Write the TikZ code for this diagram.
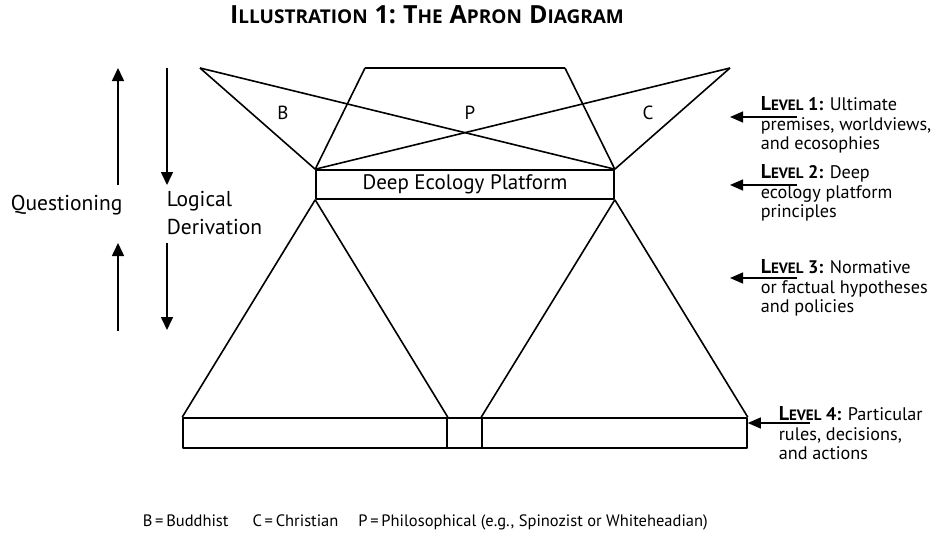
\documentclass[tikz,border=0pt]{standalone}
\usepackage{fontspec}
\setmainfont{PT Sans}
\newfontfamily\titlefont{Open Sans}
\usetikzlibrary{arrows.meta}
\newcommand{\levname}[1]{\textbf{{\fontsize{20}{20}\selectfont L}{\fontsize{15}{20}\selectfont EVEL} #1:}}
\newcommand{\tbig}[1]{{\fontsize{25}{28}\selectfont #1}}
\newcommand{\tsml}[1]{{\fontsize{19}{28}\selectfont #1}}
\newcommand{\tsp}{\hspace{7pt}}
\begin{document}
\begin{tikzpicture}[x=1pt,y=-1pt, line width=1.6pt, line join=round,
  box/.style={draw, inner sep=0pt},
  lbl/.style={font=\fontsize{18.2}{19.5}\selectfont, align=left, anchor=north west, inner sep=0pt},
  letter/.style={font=\fontsize{19}{22}\selectfont, inner sep=0pt},
  side/.style={font=\fontsize{21.5}{28}\selectfont, inner sep=0pt},
  bigarr/.style={-{Triangle[length=13pt,width=12pt]}, line width=1.6pt},
  levarr/.style={-{Triangle[length=13pt,width=11pt]}, line width=1.3pt}]
\useasboundingbox (0,0) rectangle (932,536);
% title
\node[inner sep=0pt, font=\titlefont\bfseries] (title) at (427,15)
 {\tbig{I}\tsml{LLUSTRATION}\tsp\tbig{1:}\tsp\tbig{T}\tsml{HE}\tsp\tbig{A}\tsml{PRON}\tsp\tbig{D}\tsml{IAGRAM}};
% top apexes
\coordinate (BA) at (200,68);
\coordinate (CA) at (730,68);
\coordinate (PL) at (365,68);
\coordinate (PR) at (565,68);
% platform
\node[box, minimum width=298pt, minimum height=29pt, font=\fontsize{21}{24}\selectfont] (plat) at (465,184.5) {Deep Ecology Platform};
\draw (BA) -- (plat.north west);
\draw (BA) -- (plat.north east);
\draw (CA) -- (plat.north east);
\draw (CA) -- (plat.north west);
\draw (PL) -- (PR);
\draw (PL) -- (plat.north west);
\draw (PR) -- (plat.north east);
\node[letter] (lb) at (283,113) {B};
\node[letter] (lp) at (470,113) {P};
\node[letter] (lc) at (648,113) {C};
% bottom rectangles
\node[box, minimum width=264pt, minimum height=30pt] (r1) at (315,433) {};
\node[box, minimum width=35pt, minimum height=30pt] (r2) at (464.5,433) {};
\node[box, minimum width=265pt, minimum height=30pt] (r3) at (614.5,433) {};
\draw (plat.south west) -- (r1.north west);
\draw (plat.south west) -- (r1.north east);
\draw (plat.south east) -- (r3.north west);
\draw (plat.south east) -- (r3.north east);
% left arrows
\node[side, anchor=west] (quest) at (10,205) {Questioning};
\node[side, anchor=north west, align=left] (logic) at (166,190) {Logical\\Derivation};
\coordinate (q1b) at (118,185);
\coordinate (q1t) at (118,68);
\coordinate (q2b) at (118,331);
\coordinate (q2t) at (118,243);
\coordinate (d1t) at (167,68);
\coordinate (d1b) at (167,185);
\coordinate (d2t) at (167,243);
\coordinate (d2b) at (167,330);
\draw[bigarr] (q1b) -- (q1t);
\draw[bigarr] (q2b) -- (q2t);
\draw[bigarr] (d1t) -- (d1b);
\draw[bigarr] (d2t) -- (d2b);
% level labels
\node[lbl] (lev1) at (760,96) {\levname{1} Ultimate\\premises, worldviews,\\and ecosophies};
\node[lbl] (lev2) at (760,164) {\levname{2} Deep\\ecology platform\\principles};
\node[lbl] (lev3) at (760,259) {\levname{3} Normative\\or factual hypotheses\\and policies};
\node[lbl] (lev4) at (778,406) {\levname{4} Particular\\rules, decisions,\\and actions};
\coordinate (t1) at (797,117);
\coordinate (h1) at (730,117);
\coordinate (t2) at (797,185);
\coordinate (h2) at (730,185);
\coordinate (t3) at (797,278);
\coordinate (h3) at (730,278);
\coordinate (t4) at (810,423);
\draw[levarr] (t1) -- (h1);
\draw[levarr] (t2) -- (h2);
\draw[levarr] (t3) -- (h3);
\draw[levarr] (t4) -- (r3.north east |- t4);
% footer
\node[inner sep=0pt, anchor=west, font=\fontsize{16.5}{19}\selectfont] (foot) at (142,522)
 {B\,=\,Buddhist\hspace{24pt}C\,=\,Christian\hspace{20pt}P\,=\,Philosophical (e.g., Spinozist or Whiteheadian)};
\end{tikzpicture}
\end{document}
